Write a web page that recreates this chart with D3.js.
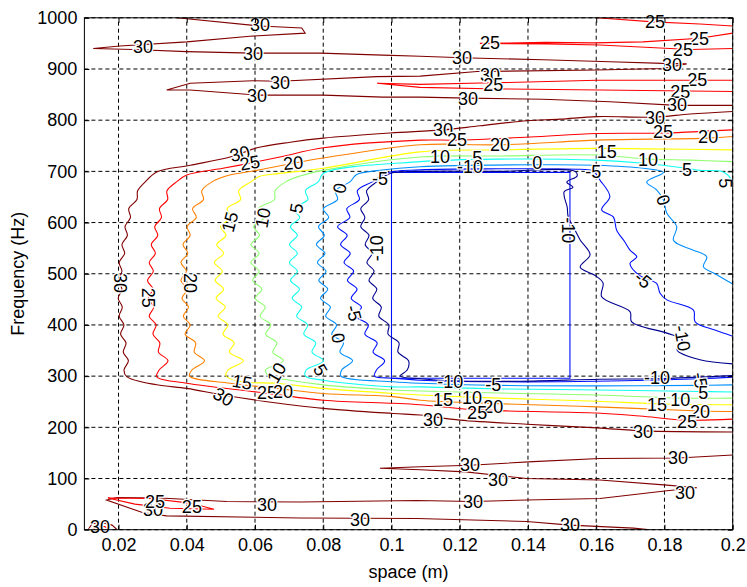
<!DOCTYPE html>
<html><head><meta charset="utf-8">
<script src="https://cdn.jsdelivr.net/npm/d3@7"></script>
<style>body{margin:0;background:#fff}text{font-family:"Liberation Sans",Arial,Helvetica,sans-serif}</style>
</head><body><svg id="chart" width="747" height="587"></svg>
<script>
// ---------------- data ----------------
const xTicks=[0.02,0.04,0.06,0.08,0.1,0.12,0.14,0.16,0.18,0.2];
const xTickLabels=["0.02","0.04","0.06","0.08","0.1","0.12","0.14","0.16","0.18","0.2"];
const yTicks=[0,100,200,300,400,500,600,700,800,900,1000];
const levels=[-10,-5,0,5,10,15,20,25,30];
const levelColors=["#00008f","#0010ff","#008fff","#10ffef","#8fff70","#ffff00","#ff8000","#ff0000","#800000"];

// contour polylines [space (m), frequency (Hz)]
const c30_upper=[[0.0371,1000],[0.0615,984],[0.0737,980],[0.0747,970],[0.0585,964],[0.0400,953],[0.0204,945],[0.0126,940],[0.0242,938],[0.0400,934],[0.0594,931],[0.0791,931],[0.0975,927],[0.1084,925],[0.1207,922],[0.1444,918],[0.1640,914],[0.1796,911],[0.1865,910],[0.1796,901],[0.1602,898],[0.1251,895],[0.1084,886],[0.0957,885],[0.0673,876],[0.0594,877],[0.0410,872],[0.0341,859],[0.0410,859],[0.0605,849],[0.0800,849],[0.0975,845],[0.1084,845],[0.1224,843],[0.1444,841],[0.1640,836],[0.1837,829],[0.2000,829]];
const c25_top=[[0.1602,1000],[0.1767,992],[0.1904,988],[0.2000,984]];
const c25_wedge1=[[0.2000,970],[0.1904,960],[0.1737,953],[0.1591,951],[0.1453,952],[0.1259,950],[0.1453,949],[0.1611,947],[0.1758,942],[0.1875,938],[0.2000,940]];
const c25_wedge2=[[0.2000,878],[0.1602,878],[0.1298,873],[0.1084,870],[0.0958,872],[0.1084,864],[0.1318,861],[0.1611,859],[0.2000,856]];

const c30_u=[[0.2000,817],[0.1875,812],[0.1767,806],[0.1602,807],[0.1494,802],[0.1397,799],[0.1259,789],[0.1151,781],[0.0996,775],[0.0800,765],[0.0703,757],[0.0606,746],[0.0527,728],[0.0410,712],[0.0312,699],
[0.0279,680],[0.0256,662],[0.0254,645],[0.0230,627],[0.0235,610],[0.0219,592],[0.0226,575],[0.0210,557],[0.0218,540],[0.0202,522],[0.0210,505],[0.0199,487],[0.0210,470],[0.0199,452],[0.0211,435],[0.0202,417],[0.0216,400],[0.0206,382],[0.0222,365],[0.0214,347],[0.0229,330],[0.0216,312],[0.0224,299],
[0.0312,283],[0.0400,276],[0.0506,263],[0.0605,253],[0.0800,237],[0.1005,227],[0.1084,224],[0.1201,214],[0.1397,206],[0.1602,199],[0.1737,193],[0.2000,191]];
const c25_u=[[0.2000,781],[0.1802,775],[0.1601,774],[0.1406,767],[0.1191,761],[0.1084,761],[0.0800,746],[0.0673,728],[0.0585,716],[0.0506,706],[0.0400,693],
[0.0371,680],[0.0342,662],[0.0344,645],[0.0320,627],[0.0326,610],[0.0306,592],[0.0315,575],[0.0296,557],[0.0308,540],[0.0290,522],[0.0302,505],[0.0285,487],[0.0301,470],[0.0287,452],[0.0303,435],[0.0290,417],[0.0310,400],[0.0301,382],[0.0321,365],[0.0317,347],[0.0345,330],[0.0319,312],[0.0312,299],
[0.0400,286],[0.0605,269],[0.0800,253],[0.1005,247],[0.1084,244],[0.1251,234],[0.1602,228],[0.1728,222],[0.1866,214],[0.2000,216]];
const c20_u=[[0.2000,768],[0.1928,765],[0.1758,763],[0.1601,761],[0.1318,752],[0.1084,752],[0.0800,726],[0.0712,716],[0.0605,702],[0.0520,692],
[0.0475,680],[0.0444,662],[0.0449,645],[0.0417,627],[0.0428,610],[0.0401,592],[0.0410,575],[0.0389,557],[0.0403,540],[0.0383,522],[0.0399,505],[0.0383,487],[0.0402,470],[0.0386,452],[0.0405,435],[0.0390,417],[0.0410,400],[0.0395,382],[0.0426,365],[0.0422,347],[0.0452,330],[0.0415,312],[0.0408,300],
[0.0527,286],[0.0664,276],[0.0800,266],[0.1005,260],[0.1084,253],[0.1318,246],[0.1602,240],[0.1904,232],[0.2000,231]];
const c15_u=[[0.2000,742],[0.1758,744],[0.1601,745],[0.1318,742],[0.1084,738],[0.0800,706],[0.0673,696],[0.0612,690],
[0.0589,680],[0.0552,662],[0.0558,645],[0.0518,627],[0.0529,610],[0.0499,592],[0.0515,575],[0.0488,557],[0.0508,540],[0.0481,522],[0.0504,505],[0.0483,487],[0.0508,470],[0.0486,452],[0.0513,435],[0.0492,417],[0.0520,400],[0.0506,382],[0.0539,365],[0.0525,347],[0.0566,330],[0.0521,312],[0.0515,300],
[0.0561,289],[0.0664,286],[0.0800,276],[0.1005,266],[0.1084,263],[0.1318,257],[0.1602,251],[0.1778,246],[0.2000,244]];
const c10_u=[[0.2000,719],[0.1875,722],[0.1753,724],[0.1601,732],[0.1318,730],[0.1084,728],[0.0800,702],[0.0732,691],
[0.0691,680],[0.0659,662],[0.0657,645],[0.0610,627],[0.0627,610],[0.0596,592],[0.0613,575],[0.0588,557],[0.0612,540],[0.0588,522],[0.0612,505],[0.0593,487],[0.0620,470],[0.0601,452],[0.0630,435],[0.0615,417],[0.0646,400],[0.0631,382],[0.0664,365],[0.0652,347],[0.0683,330],[0.0631,312],[0.0640,301],
[0.0703,292],[0.0800,283],[0.1005,273],[0.1084,271],[0.1318,267],[0.1602,263],[0.1846,257],[0.2000,257]];
const c5_u=[[0.2000,667],[0.1997,683],[0.1972,699],[0.1904,702],[0.1865,706],[0.1738,716],[0.1601,722],[0.1318,724],[0.1084,719],[0.0800,696],
[0.0786,680],[0.0748,662],[0.0755,645],[0.0713,627],[0.0731,610],[0.0704,592],[0.0724,575],[0.0701,557],[0.0724,540],[0.0701,522],[0.0724,505],[0.0704,487],[0.0730,470],[0.0709,452],[0.0737,435],[0.0722,417],[0.0754,400],[0.0743,382],[0.0778,365],[0.0767,347],[0.0801,330],[0.0750,312],[0.0748,300],
[0.0800,292],[0.1005,279],[0.1084,279],[0.1318,275],[0.1602,273],[0.1904,270],[0.2000,269]];
const c0_u=[[0.2000,480],[0.1948,500],[0.1914,514],[0.1924,533],[0.1885,546],[0.1846,556],[0.1826,566],[0.1836,592],[0.1807,618],[0.1797,644],[0.1777,664],[0.1748,679],[0.1797,698],[0.1738,706],[0.1601,712],[0.1426,713],[0.1084,709],[0.0966,702],[0.0898,694],
[0.0879,680],[0.0836,662],[0.0842,645],[0.0800,627],[0.0816,610],[0.0786,592],[0.0803,575],[0.0780,557],[0.0805,540],[0.0783,522],[0.0808,505],[0.0787,487],[0.0813,470],[0.0792,452],[0.0821,435],[0.0807,417],[0.0839,400],[0.0825,382],[0.0859,365],[0.0849,347],[0.0886,330],[0.0854,312],[0.0852,300],
[0.1005,289],[0.1084,286],[0.1318,282],[0.1602,281],[0.1904,282],[0.2000,283]];
const cm5_u=[[0.2000,378],[0.1948,390],[0.1890,406],[0.1885,429],[0.1807,449],[0.1787,462],[0.1777,481],[0.1728,496],[0.1699,520],[0.1719,533],[0.1699,546],[0.1684,562],[0.1660,585],[0.1650,611],[0.1616,625],[0.1640,651],[0.1611,683],[0.1591,701],[0.1553,704],[0.1318,705],[0.1084,703],[0.0985,697],
[0.0945,680],[0.0900,662],[0.0906,645],[0.0869,627],[0.0878,610],[0.0842,592],[0.0870,575],[0.0851,557],[0.0879,540],[0.0861,522],[0.0889,505],[0.0871,487],[0.0899,470],[0.0882,452],[0.0912,435],[0.0896,417],[0.0932,400],[0.0922,382],[0.0958,365],[0.0946,347],[0.0980,330],[0.0956,312],[0.0950,300],
[0.1005,296],[0.1084,292],[0.1318,289],[0.1602,290],[0.1904,295],[0.2000,298]];
const cm10_u=[[0.2000,324],[0.1904,332],[0.1837,351],[0.1852,371],[0.1807,384],[0.1704,406],[0.1699,426],[0.1616,455],[0.1620,482],[0.1596,497],[0.1553,513],[0.1582,537],[0.1553,566],[0.1538,585],[0.1518,611],[0.1515,630],[0.1506,660],[0.1532,669],[0.1514,679],[0.1544,691],[0.1538,700],[0.1318,700],[0.1084,700],[0.0996,696],
[0.0958,680],[0.0927,662],[0.0933,645],[0.0910,627],[0.0922,610],[0.0910,592],[0.0934,575],[0.0923,557],[0.0943,540],[0.0928,522],[0.0949,505],[0.0934,487],[0.0957,470],[0.0945,452],[0.0970,435],[0.0963,417],[0.0992,400],[0.0990,382],[0.1022,365],[0.1019,347],[0.1050,330],[0.1046,312],[0.1025,300],
[0.1084,295],[0.1172,291],[0.1377,290],[0.1611,294],[0.1778,295],[0.2000,301]];
const cRect=[[0.1,698],[0.1,296],[0.1523,296],[0.1523,698],[0.1,698]];

const c30_low=[[0.2000,146],[0.1840,140],[0.1611,139],[0.1415,133],[0.1230,126],[0.1084,123],[0.0966,120],[0.1084,117],[0.1218,113],[0.1396,100],[0.1611,97],[0.1807,87],[0.1895,82],[0.1807,76],[0.1611,61],[0.1396,58],[0.1239,55],[0.1074,57],[0.0732,54],[0.0517,55],[0.0322,62],[0.0195,63],[0.0165,58],[0.0272,33],[0.0341,27],[0.0732,23],[0.1074,22],[0.1396,16],[0.1523,9],[0.1709,3],[0.1758,0]];
const c25_low=[[0.0169,62],[0.0292,61],[0.0410,52],[0.0480,40],[0.0351,42],[0.0248,50],[0.0169,62]];
const c30_corner=[[0.0111,0],[0.0122,11],[0.0146,15],[0.0181,9],[0.0196,0]];
const c25_corner=[[0.0122,0],[0.0137,7],[0.0160,6],[0.0172,0]];

// contour labels: [text, space, frequency, rotation]
const contourLabels=[
["30",0.0615,986,0],["30",0.0272,943,0],["30",0.0594,929,0],["30",0.0673,872,0],["30",0.0606,847,0],
["30",0.1207,921,0],["25",0.1289,951,0],["25",0.1772,992,0],["25",0.1901,959,0],["25",0.1854,937,0],["30",0.1822,907,0],
["30",0.1289,888,0],["25",0.1298,868,0],["25",0.1896,878,0],["30",0.1224,841,0],["25",0.1846,855,0],["30",0.1837,829,0],
["30",0.1151,781,0],["30",0.1772,804,0],["25",0.1796,777,0],["20",0.1928,767,0],
["30",0.0556,734,-15],["25",0.0585,716,-10],["20",0.0712,716,-5],
["25",0.1192,761,0],["20",0.1318,752,0],["15",0.1631,738,0],["10",0.1142,728,0],["5",0.1251,726,0],["-10",0.1230,709,0],["0",0.1427,716,0],
["10",0.1752,722,0],["5",0.1866,702,0],["5",0.1978,677,90],["-5",0.1591,698,0],["-5",0.0966,685,0],
["0",0.1796,644,70],["-10",0.1518,585,90],["-5",0.1737,488,40],["-10",0.1852,374,80],
["15",0.0527,601,-75],["10",0.0624,609,-80],["5",0.0722,628,-80],["0",0.0849,667,-80],
["30",0.0204,482,90],["25",0.0286,453,90],["20",0.0410,482,90],["-10",0.0958,550,-90],["-5",0.0889,423,75],["0",0.0843,374,80],
["5",0.0791,312,60],["10",0.0664,306,-60],["15",0.0562,288,10],["30",0.0507,259,30],["25",0.0635,267,0],["20",0.0682,269,0],
["-10",0.1172,288,0],["-5",0.1298,282,0],["15",0.1151,253,0],["10",0.1236,257,0],["20",0.1298,240,0],["25",0.1251,228,0],["30",0.1122,214,0],
["-10",0.1778,296,0],["-5",0.1904,292,80],["5",0.1914,267,0],["10",0.1846,253,0],["15",0.1778,244,0],["20",0.1904,230,0],["25",0.1866,210,0],["30",0.1737,191,0],
["30",0.1230,126,0],["30",0.1840,140,0],["30",0.1312,97,0],["30",0.1860,72,0],["30",0.1239,54,0],["30",0.1523,9,0],
["30",0.0635,48,0],["30",0.0908,19,0],["30",0.0301,38,0],["25",0.0415,44,0],["25",0.0307,54,0],["30",0.0146,5,0]
];

// ---------------- drawing ----------------
const svg=d3.select('#chart');
const x=d3.scaleLinear().domain([0.01,0.2]).range([84.4,732.7]);
const y=d3.scaleLinear().domain([0,1000]).range([529.7,17.8]);
const color=d3.scaleOrdinal().domain(levels).range(levelColors);

svg.append('rect').attr('width',747).attr('height',587).attr('fill','#fff');
svg.append('clipPath').attr('id','clip').append('rect')
  .attr('x',x(0.01)).attr('y',y(1000)).attr('width',x(0.2)-x(0.01)).attr('height',y(0)-y(1000));

// grid
const grid=svg.append('g').attr('stroke','#000').attr('stroke-width',1).attr('stroke-dasharray','4,3');
grid.selectAll('line.v').data(xTicks).join('line').attr('class','v')
  .attr('x1',d=>x(d)).attr('x2',d=>x(d)).attr('y1',y(0)).attr('y2',y(1000));
grid.selectAll('line.h').data(yTicks).join('line').attr('class','h')
  .attr('x1',x(0.01)).attr('x2',x(0.2)).attr('y1',d=>y(d)).attr('y2',d=>y(d));

// contour lines
const series=[
 {level:30,lines:[c30_upper,c30_u,c30_low,c30_corner]},
 {level:25,lines:[c25_top,c25_wedge1,c25_wedge2,c25_u,c25_low,c25_corner]},
 {level:20,lines:[c20_u]},
 {level:15,lines:[c15_u]},
 {level:10,lines:[c10_u]},
 {level:5,lines:[c5_u]},
 {level:0,lines:[c0_u]},
 {level:-5,lines:[cm5_u,cRect]},
 {level:-10,lines:[cm10_u]}
];
const smooth=new Set([c30_u,c25_u,c20_u,c15_u,c10_u,c5_u,c0_u,cm5_u,cm10_u]);
const lineStraight=d3.line().x(d=>x(d[0])).y(d=>y(d[1]));
const lineSmooth=d3.line().x(d=>x(d[0])).y(d=>y(d[1])).curve(d3.curveCatmullRom.alpha(0.5));
const cg=svg.append('g').attr('clip-path','url(#clip)').attr('fill','none').attr('stroke-width',1.1);
series.forEach(s=>{
  cg.selectAll(null).data(s.lines).join('path')
    .attr('d',d=>smooth.has(d)?lineSmooth(d):lineStraight(d)).attr('stroke',color(s.level));
});

// contour labels
svg.append('g').selectAll('text').data(contourLabels).join('text')
  .attr('transform',d=>`translate(${x(d[1])},${y(d[2])}) rotate(${d[3]})`)
  .attr('text-anchor','middle').attr('dominant-baseline','central')
  .attr('font-size',18).attr('fill','#000')
  .attr('stroke','#fff').attr('stroke-width',2.5).attr('paint-order','stroke')
  .text(d=>d[0]);

// axes
const xAxis=d3.axisBottom(x).tickValues(xTicks).tickFormat((d,i)=>xTickLabels[i]).tickSize(-5).tickPadding(9);
const yAxis=d3.axisLeft(y).tickValues(yTicks).tickFormat(d3.format('d')).tickSize(-5).tickPadding(7);
const gx=svg.append('g').attr('transform',`translate(0,${y(0)})`).call(xAxis);
const gy=svg.append('g').attr('transform',`translate(${x(0.01)},0)`).call(yAxis);
const gx2=svg.append('g').attr('transform',`translate(0,${y(1000)})`).call(d3.axisTop(x).tickValues(xTicks).tickFormat('').tickSize(-5));
const gy2=svg.append('g').attr('transform',`translate(${x(0.2)},0)`).call(d3.axisRight(y).tickValues(yTicks).tickFormat('').tickSize(-5));
[gx,gy,gx2,gy2].forEach(g=>{g.select('.domain').remove();g.selectAll('line').attr('stroke','#000');
  g.selectAll('text').attr('font-size',18).attr('fill','#000').style('font-family','"Liberation Sans",Arial,sans-serif');});

// frame
svg.append('rect').attr('x',x(0.01)).attr('y',y(1000)).attr('width',x(0.2)-x(0.01)).attr('height',y(0)-y(1000))
  .attr('fill','none').attr('stroke','#000').attr('stroke-width',1);

// axis titles
svg.append('text').attr('x',(x(0.01)+x(0.2))/2).attr('y',578).attr('text-anchor','middle').attr('font-size',18).text('space (m)');
svg.append('text').attr('transform',`translate(24,${(y(0)+y(1000))/2}) rotate(-90)`).attr('text-anchor','middle').attr('font-size',18).text('Frequency (Hz)');
</script></body></html>
